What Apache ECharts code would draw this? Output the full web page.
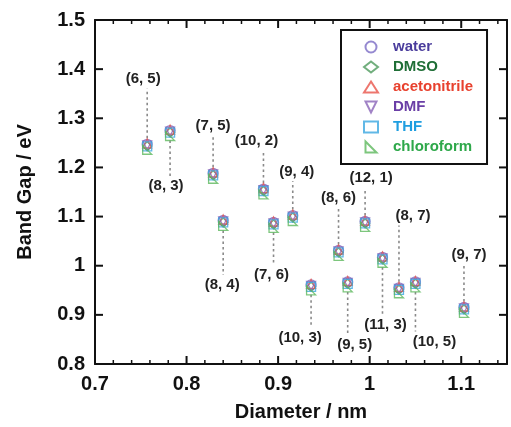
<!DOCTYPE html>
<html>
<head>
<meta charset="utf-8">
<script src="https://cdn.jsdelivr.net/npm/echarts@6/dist/echarts.min.js"></script>
<style>
  html, body { margin: 0; padding: 0; background: #fff; }
  #chart { width: 511px; height: 427px; }
</style>
</head>
<body>
<div id="chart"></div>
<script>
// ==============================================================
// Band gap vs diameter, six solvents
// ==============================================================
var tubes = ['(6, 5)', '(8, 3)', '(7, 5)', '(8, 4)', '(10, 2)', '(7, 6)', '(9, 4)', '(10, 3)',
  '(8, 6)', '(9, 5)', '(12, 1)', '(11, 3)', '(8, 7)', '(10, 5)', '(9, 7)'];
var diameter = [0.757, 0.782, 0.829, 0.840, 0.884, 0.895, 0.916, 0.936,
  0.966, 0.976, 0.995, 1.014, 1.032, 1.050, 1.103];

var water = [1.247, 1.275, 1.188, 1.092, 1.156, 1.088, 1.102, 0.961, 1.031, 0.967, 1.090, 1.017, 0.955, 0.967, 0.915];
var dmso = [1.243, 1.271, 1.184, 1.088, 1.152, 1.084, 1.098, 0.957, 1.027, 0.963, 1.086, 1.013, 0.951, 0.963, 0.911];
var acetonitrile = [1.249, 1.277, 1.190, 1.094, 1.158, 1.090, 1.104, 0.963, 1.033, 0.969, 1.092, 1.019, 0.957, 0.969, 0.917];
var dmf = [1.245, 1.273, 1.186, 1.090, 1.154, 1.086, 1.100, 0.959, 1.029, 0.965, 1.088, 1.015, 0.953, 0.965, 0.913];
var thf = [1.243, 1.271, 1.184, 1.088, 1.152, 1.084, 1.098, 0.957, 1.027, 0.963, 1.086, 1.013, 0.951, 0.963, 0.911];
var chloroform = [1.236, 1.264, 1.177, 1.081, 1.145, 1.077, 1.091, 0.950, 1.020, 0.956, 1.079, 1.006, 0.944, 0.956, 0.904];

// where the (n, m) tag sits, in eV
var tagEg = [1.381, 1.162, 1.285, 0.961, 1.255, 0.981, 1.192, 0.854, 1.138, 0.838, 1.178, 0.880, 1.102, 0.846, 1.023];
// small sideways nudge of each tag, px
var tagShift = [-4, -4, 0, -1, -7, -2, 4, -11, 0, 7, 6, 3, 14, 19, 5];

var xTicks = [0.7, 0.8, 0.9, 1.0, 1.1];
var xMax = 1.15;
var yTicks = [0.8, 0.9, 1.0, 1.1, 1.2, 1.3, 1.4, 1.5];

var FONT = '"Liberation Sans", Arial, sans-serif';

var solvents = [
  { name: 'water', values: water, symbol: 'circle', color: '#7a6cc4', text: '#4a3c9c' },
  { name: 'DMSO', values: dmso, symbol: 'diamond', color: '#4d9a5c', text: '#1f6e36' },
  { name: 'acetonitrile', values: acetonitrile, symbol: 'triangle', color: '#e8544a', text: '#e8412e' },
  { name: 'DMF', values: dmf, symbol: 'path://M0,0 L10,0 L5,10 Z', color: '#8a64b8', text: '#6a3ea6' },
  { name: 'THF', values: thf, symbol: 'rect', color: '#3aa6e0', text: '#1f9ee0' },
  { name: 'chloroform', values: chloroform, symbol: 'path://M0,0 L0,10 L10,10 Z', color: '#5cb85c', text: '#2ea84a' }
];

function pairs(xs, ys) {
  return xs.map(function (x, i) { return [x, ys[i]]; });
}

var scatterSeries = solvents.map(function (s) {
  return {
    name: s.name,
    type: 'scatter',
    symbol: s.symbol,
    symbolSize: s.symbol === 'circle' ? 10 : 9,
    itemStyle: { color: 'rgba(255,255,255,0)', borderColor: s.color, borderWidth: 1.3 },
    data: pairs(diameter, s.values),
    z: 5
  };
});

var tagSeries = {
  type: 'custom',
  silent: true,
  z: 3,
  encode: { x: 0, y: 1 },
  data: tubes.map(function (t, i) { return [diameter[i], dmso[i], tagEg[i], tagShift[i]]; }),
  renderItem: function (params, api) {
    var p0 = api.coord([api.value(0), api.value(1)]);
    var p1 = api.coord([api.value(0), api.value(2)]);
    var up = p1[1] < p0[1];
    var y0 = p0[1] + (up ? -8 : 8);
    var y1 = p1[1] + (up ? 10 : -10);
    return {
      type: 'group',
      children: [
        {
          type: 'line',
          shape: { x1: p0[0], y1: y0, x2: p0[0], y2: y1 },
          style: { stroke: '#8a8a8a', lineWidth: 1.6, lineDash: [2.5, 3] }
        },
        {
          type: 'text',
          x: p1[0] + api.value(3),
          y: p1[1],
          style: {
            text: tubes[params.dataIndex],
            font: 'bold 15px ' + FONT,
            fill: '#222',
            align: 'center',
            verticalAlign: 'middle'
          }
        }
      ]
    };
  }
};

// inward ticks on all four sides of the frame; every row stays inside the axis ranges
// [x, y, kind]  kind: 0 = x major, 1 = x minor, 2 = y major
var tickRows = [];
for (var k = 0; xTicks[0] + k * 0.02 <= xMax + 1e-9; k++) {
  tickRows.push([+(xTicks[0] + k * 0.02).toFixed(2), 1.0, k % 5 === 0 ? 0 : 1]);
}
yTicks.forEach(function (v) { tickRows.push([0.9, v, 2]); });

var tickSeries = {
  type: 'custom',
  silent: true,
  z: 10,
  clip: false,
  encode: { x: 0, y: 1 },
  data: tickRows,
  renderItem: function (params, api) {
    var cs = params.coordSys;
    var kind = api.value(2);
    var style = { stroke: '#111', lineWidth: kind === 1 ? 1.5 : 2 };
    var p = api.coord([api.value(0), api.value(1)]);
    if (kind === 2) {
      return {
        type: 'group',
        children: [
          { type: 'line', shape: { x1: cs.x, y1: p[1], x2: cs.x + 8, y2: p[1] }, style: style },
          { type: 'line', shape: { x1: cs.x + cs.width, y1: p[1], x2: cs.x + cs.width - 8, y2: p[1] }, style: style }
        ]
      };
    }
    var len = kind === 0 ? 8 : 4;
    return {
      type: 'group',
      children: [
        { type: 'line', shape: { x1: p[0], y1: cs.y + cs.height, x2: p[0], y2: cs.y + cs.height - len }, style: style },
        { type: 'line', shape: { x1: p[0], y1: cs.y, x2: p[0], y2: cs.y + len }, style: style }
      ]
    };
  }
};

function frameAxis(extra) {
  var base = {
    type: 'value',
    axisLine: { show: true, onZero: false, lineStyle: { color: '#111', width: 2 } },
    axisTick: { show: false },
    axisLabel: { show: false },
    splitLine: { show: false }
  };
  return Object.assign(base, extra);
}

var chart = echarts.init(document.getElementById('chart'));
var option = {
  backgroundColor: '#fff',
  animation: false,
  grid: { left: 95, right: 4, top: 20, bottom: 60 },
  legend: {
    orient: 'vertical',
    left: 341,
    top: 30,
    padding: [9, 14, 9, 22],
    borderColor: '#111',
    borderWidth: 2,
    backgroundColor: '#fff',
    itemWidth: 14,
    itemHeight: 11,
    itemGap: 4,
    selectedMode: false,
    data: solvents.map(function (s) {
      return { name: s.name, textStyle: { color: s.text } };
    }),
    textStyle: { fontFamily: FONT, fontWeight: 'bold', fontSize: 15, lineHeight: 16, padding: [0, 0, 0, 10] }
  },
  xAxis: [
    frameAxis({
      position: 'bottom', min: xTicks[0], max: xMax, interval: 0.1,
      name: 'Diameter / nm', nameLocation: 'middle', nameGap: 38,
      nameTextStyle: { fontFamily: FONT, fontWeight: 'bold', fontSize: 20, color: '#111' },
      axisLabel: {
        show: true, fontFamily: FONT, fontWeight: 'bold', fontSize: 20, color: '#111', margin: 10, showMaxLabel: false,
        formatter: function (v) { return xTicks.indexOf(+v.toFixed(2)) >= 0 ? String(+v.toFixed(2)) : ''; }
      }
    }),
    frameAxis({ position: 'top', min: xTicks[0], max: xMax, interval: 0.1 })
  ],
  yAxis: [
    frameAxis({
      position: 'left', min: yTicks[0], max: yTicks[yTicks.length - 1], interval: 0.1,
      name: 'Band Gap / eV', nameLocation: 'middle', nameGap: 60,
      nameTextStyle: { fontFamily: FONT, fontWeight: 'bold', fontSize: 20, color: '#111' },
      axisLabel: {
        show: true, fontFamily: FONT, fontWeight: 'bold', fontSize: 20, color: '#111', margin: 10,
        formatter: function (v) { return String(+v.toFixed(1)); }
      }
    }),
    frameAxis({ position: 'right', min: yTicks[0], max: yTicks[yTicks.length - 1], interval: 0.1 })
  ],
  series: [tickSeries, tagSeries].concat(scatterSeries)
};
chart.setOption(option, true);
</script>
</body>
</html>
